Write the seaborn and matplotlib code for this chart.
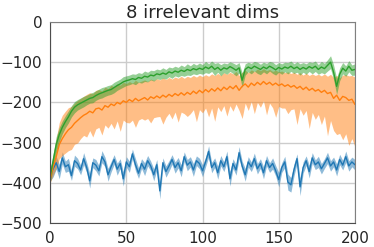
import numpy as np
import pandas as pd
import matplotlib
matplotlib.use("Agg")
import matplotlib.pyplot as plt
import seaborn as sns

# episodes, every 2nd step
steps = list(range(0, 201, 2))

blue_mean = [
    -378, -365, -350, -372, -338, -360, -355, -382, -345, -352,
    -368, -340, -362, -395, -350, -356, -370, -335, -348, -380,
    -360, -342, -366, -352, -390, -348, -360, -328, -355, -376,
    -352, -366, -345, -358, -380, -355, -420, -350, -372, -358,
    -342, -362, -350, -370, -335, -356, -348, -368, -345, -352,
    -370, -348, -322, -362, -350, -375, -345, -360, -335, -390,
    -352, -368, -325, -358, -380, -348, -360, -340, -365, -352,
    -375, -345, -362, -352, -370, -392, -362, -348, -398, -405,
    -368, -340, -410, -362, -345, -372, -338, -355, -348, -365,
    -352, -338, -358, -348, -368, -342, -356, -335, -358, -348, -355,
]
blue_std = [
    18, 20, 16, 18, 15, 14, 16, 12, 14, 13,
    12, 15, 13, 18, 12, 14, 13, 15, 12, 16,
    13, 12, 15, 12, 18, 13, 14, 12, 15, 13,
    12, 16, 13, 12, 15, 13, 20, 12, 14, 13,
    12, 14, 13, 15, 12, 14, 13, 16, 12, 13,
    15, 12, 14, 13, 12, 16, 13, 12, 14, 18,
    12, 13, 15, 12, 16, 13, 12, 14, 13, 12,
    15, 13, 12, 14, 13, 18, 12, 14, 20, 18,
    15, 12, 22, 14, 12, 16, 13, 12, 14, 13,
    12, 14, 13, 12, 15, 13, 12, 14, 13, 12, 13,
]

orange_mean = [
    -390, -360, -335, -305, -290, -278, -268, -262, -252, -245,
    -238, -232, -228, -222, -226, -216, -214, -219, -208, -212,
    -204, -208, -200, -204, -196, -200, -193, -198, -190, -196,
    -192, -188, -194, -186, -190, -184, -189, -182, -187, -180,
    -185, -178, -183, -176, -182, -175, -180, -172, -178, -170,
    -176, -168, -174, -166, -172, -164, -171, -162, -168, -160,
    -166, -158, -170, -160, -154, -162, -152, -158, -150, -156,
    -148, -155, -150, -157, -152, -158, -154, -160, -156, -162,
    -158, -165, -160, -168, -162, -170, -165, -172, -168, -175,
    -170, -178, -175, -190, -182, -195, -185, -188, -195, -192, -205,
]
orange_up = [
    10, 25, 45, 55, 58, 56, 55, 52, 50, 50,
    48, 47, 48, 46, 48, 46, 46, 47, 46, 46,
    47, 46, 46, 47, 46, 47, 45, 46, 45, 46,
    45, 44, 46, 44, 45, 43, 45, 43, 44, 42,
    43, 41, 43, 41, 42, 40, 42, 39, 41, 38,
    40, 37, 39, 37, 39, 36, 38, 36, 38, 35,
    37, 35, 37, 35, 34, 36, 33, 35, 33, 35,
    32, 34, 32, 34, 32, 34, 32, 34, 32, 34,
    33, 35, 34, 36, 35, 37, 36, 39, 38, 41,
    41, 43, 45, 52, 49, 56, 53, 57, 61, 59, 68,
]
orange_down = [
    10, 20, 28, 35, 42, 48, 52, 55, 52, 56,
    52, 50, 58, 48, 60, 50, 48, 62, 48, 52,
    48, 58, 46, 68, 48, 50, 58, 46, 72, 48,
    48, 56, 46, 65, 48, 52, 46, 72, 50, 47,
    56, 46, 66, 48, 46, 60, 48, 46, 70, 48,
    50, 46, 62, 48, 75, 47, 52, 46, 66, 48,
    56, 46, 50, 80, 48, 58, 46, 70, 50, 56,
    48, 76, 52, 56, 85, 52, 60, 54, 72, 56,
    58, 90, 56, 64, 58, 95, 60, 70, 62, 80,
    64, 105, 70, 80, 98, 82, 108, 90, 112, 98, 105,
]

green_mean = [
    -385, -345, -305, -280, -262, -248, -236, -222, -212, -206,
    -202, -198, -194, -190, -188, -183, -179, -176, -173, -170,
    -168, -163, -158, -154, -149, -146, -144, -141, -143, -138,
    -140, -135, -137, -132, -134, -129, -131, -127, -130, -124,
    -127, -122, -125, -120, -123, -118, -121, -116, -119, -115,
    -118, -112, -116, -110, -118, -113, -120, -114, -117, -111,
    -115, -120, -114, -145, -118, -112, -116, -110, -114, -118,
    -112, -116, -110, -114, -119, -113, -117, -112, -115, -110,
    -116, -112, -118, -113, -117, -111, -115, -110, -118, -112,
    -116, -108, -100, -125, -160, -130, -115, -122, -110, -120, -118,
]
green_std = [
    15, 18, 20, 18, 16, 15, 15, 14, 14, 13,
    13, 13, 12, 12, 13, 12, 12, 13, 12, 12,
    12, 13, 12, 12, 13, 12, 12, 12, 13, 12,
    12, 13, 12, 12, 13, 12, 12, 13, 12, 12,
    13, 12, 12, 13, 12, 14, 12, 13, 12, 13,
    12, 14, 12, 13, 15, 12, 14, 12, 13, 12,
    13, 14, 13, 18, 14, 12, 13, 12, 14, 13,
    12, 13, 12, 14, 13, 12, 13, 12, 14, 13,
    12, 13, 14, 12, 13, 12, 14, 13, 12, 14,
    13, 14, 16, 18, 20, 16, 14, 13, 14, 13, 14,
]

series = [
    ("blue", blue_mean, blue_std, blue_std, "#1f77b4"),
    ("orange", orange_mean, orange_up, orange_down, "#ff7f0e"),
    ("green", green_mean, green_std, green_std, "#2ca02c"),
]

sns.set_style("whitegrid")
plt.rcParams["font.family"] = ["DejaVu Sans"]

fig = plt.figure(figsize=(3.74, 2.47), dpi=100)
ax = fig.add_axes([0.134, 0.097, 0.815, 0.814])

for name, mean, up, down, color in series:
    df = pd.DataFrame({"step": steps, "reward": mean})
    lo = np.array(mean) - np.array(down)
    hi = np.array(mean) + np.array(up)
    ax.fill_between(steps, lo, hi, color=color, alpha=0.5, linewidth=0)
    sns.lineplot(data=df, x="step", y="reward", color=color, linewidth=1, ax=ax)

ax.set_xlim(0, 200)
ax.set_ylim(-500, 0)
ax.set_xticks([0, 50, 100, 150, 200])
ax.set_yticks([-500, -400, -300, -200, -100, 0])
ax.set_xlabel("")
ax.set_ylabel("")
ax.set_title("8 irrelevant dims", fontsize=13, pad=3)
ax.tick_params(labelsize=11, pad=2)
ax.grid(color="#cccccc", linewidth=1)
for side in ["left", "bottom"]:
    ax.spines[side].set_color("0.3")
for side in ["top", "right"]:
    ax.spines[side].set_color("0.5")

fig.savefig("out.png", dpi=100)
